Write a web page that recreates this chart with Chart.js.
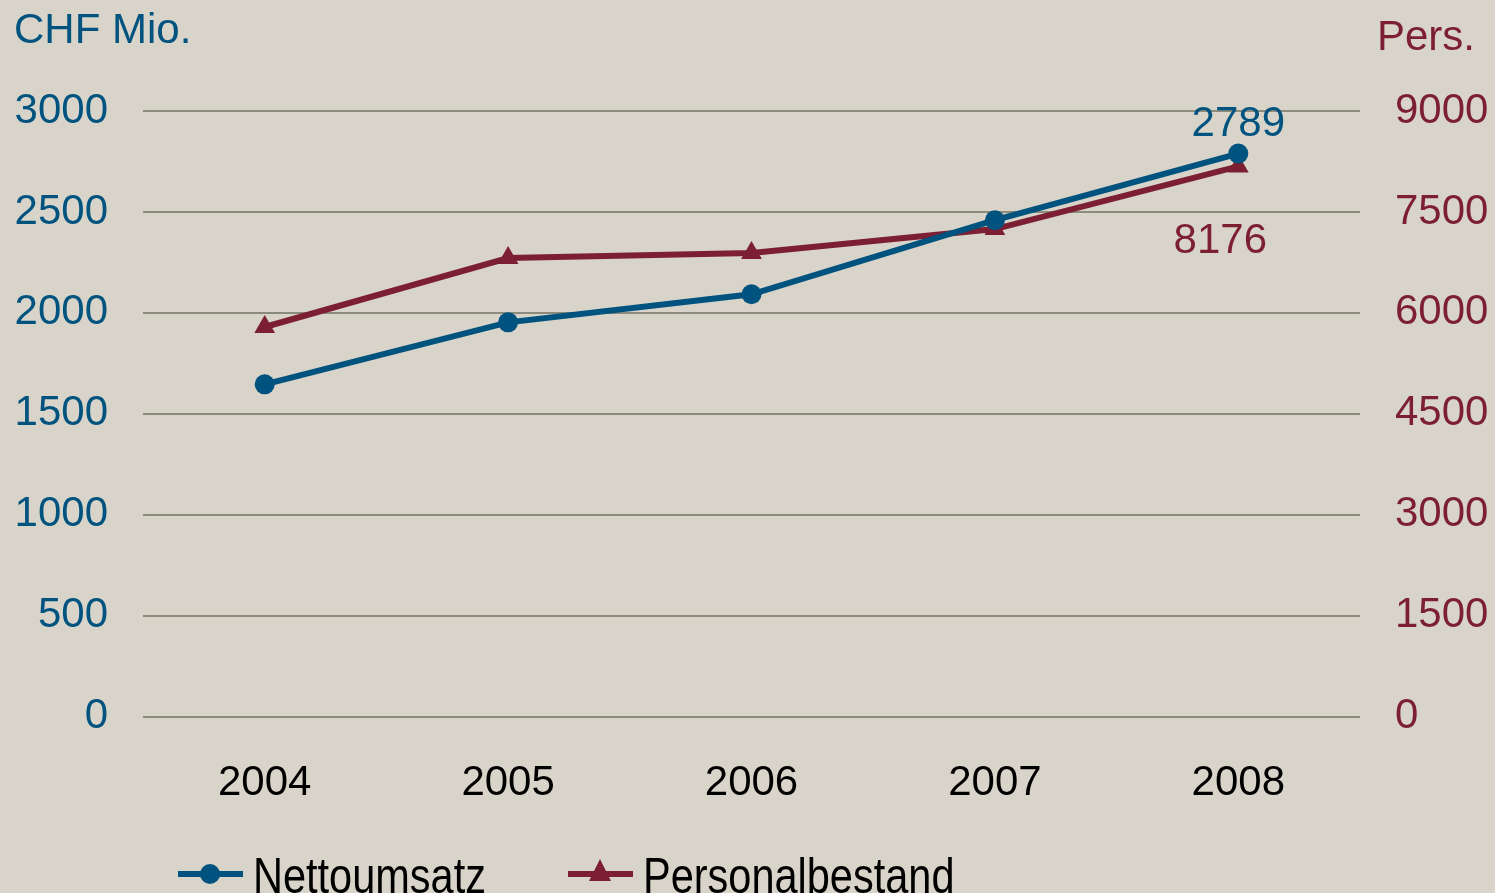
<!DOCTYPE html>
<html>
<head>
<meta charset="utf-8">
<script src="https://cdn.jsdelivr.net/npm/chart.js@4"></script>
<style>
  html, body { margin: 0; padding: 0; background: #d8d4c9; overflow: hidden; }
  #wrap { position: relative; width: 1495px; height: 893px; }
  .unit { position: absolute; font-family: "Liberation Sans", Arial, sans-serif; font-size: 42px; line-height: 1; }
  #unitL { left: 14px; top: 8px; color: #00527f; }
  #unitR { right: 20px; top: 15px; color: #7c1f32; }
  #legend { position: absolute; left: 0; top: 851px; width: 1495px; height: 60px;
    font-family: "Liberation Sans", Arial, sans-serif; font-size: 50px; line-height: 1; color: #000; }
  .item { position: absolute; top: 0; white-space: nowrap; }
  .mark { position: absolute; top: 20px; width: 65px; height: 6px; }
  .txt { position: absolute; top: 0; transform: scaleX(0.83); transform-origin: 0 0; }
</style>
</head>
<body>
<div id="wrap">
  <canvas id="chart" width="1495" height="893"></canvas>
  <div class="unit" id="unitL">CHF Mio.</div>
  <div class="unit" id="unitR">Pers.</div>
  <div id="legend"></div>
</div>
<script>
const years = ['2004', '2005', '2006', '2007', '2008'];
const nettoumsatz = [1646, 1953, 2092, 2459, 2789];
const personalbestand = [5790, 6815, 6890, 7245, 8176];
const leftTicks = [0, 500, 1000, 1500, 2000, 2500, 3000];
const rightTicks = [0, 1500, 3000, 4500, 6000, 7500, 9000];

const BLUE = '#00527f';
const RED = '#7c1f32';
const FONT = '"Liberation Sans", Arial, sans-serif';

// labels on the last point of each series
const endLabels = {
  id: 'endLabels',
  afterDatasetsDraw(chart) {
    const ctx = chart.ctx;
    ctx.save();
    ctx.font = '42px ' + FONT;
    ctx.textAlign = 'center';
    ctx.textBaseline = 'middle';
    const p0 = chart.getDatasetMeta(0).data[4];
    ctx.fillStyle = BLUE;
    ctx.fillText(String(nettoumsatz[4]), p0.x, p0.y - 29);
    const p1 = chart.getDatasetMeta(1).data[4];
    ctx.fillStyle = RED;
    ctx.fillText(String(personalbestand[4]), p1.x - 18, p1.y + 75);
    ctx.restore();
  }
};

new Chart(document.getElementById('chart'), {
  type: 'line',
  data: {
    labels: years,
    datasets: [
      {
        label: 'Nettoumsatz',
        data: nettoumsatz,
        yAxisID: 'y',
        borderColor: BLUE,
        backgroundColor: BLUE,
        borderWidth: 6,
        pointStyle: 'circle',
        pointRadius: 10,
        pointBorderWidth: 0,
        tension: 0
      },
      {
        label: 'Personalbestand',
        data: personalbestand,
        yAxisID: 'y1',
        borderColor: RED,
        backgroundColor: RED,
        borderWidth: 6,
        pointStyle: 'triangle',
        pointRadius: 12,
        pointBorderWidth: 0,
        tension: 0
      }
    ]
  },
  options: {
    responsive: false,
    animation: false,
    layout: { padding: { top: 111, bottom: 50, left: 0, right: 0 } },
    plugins: { legend: { display: false }, tooltip: { enabled: false } },
    scales: {
      x: {
        offset: true,
        grid: { display: false },
        border: { display: false },
        ticks: { color: '#000', font: { family: FONT, size: 42 }, padding: 34 }
      },
      y: {
        position: 'left',
        min: 0, max: 3000,
        afterBuildTicks: s => { s.ticks = leftTicks.map(v => ({ value: v })); },
        afterFit: s => { s.width = 143; },
        grid: { color: '#8c8c7e', lineWidth: 2, drawTicks: false },
        border: { display: false },
        ticks: { color: BLUE, font: { family: FONT, size: 42 }, padding: 35, callback: v => String(v) }
      },
      y1: {
        position: 'right',
        min: 0, max: 9000,
        afterBuildTicks: s => { s.ticks = rightTicks.map(v => ({ value: v })); },
        afterFit: s => { s.width = 135; },
        grid: { display: false, drawTicks: false },
        border: { display: false },
        ticks: { color: RED, font: { family: FONT, size: 42 }, padding: 35, callback: v => String(v) }
      }
    }
  },
  plugins: [endLabels]
});

// legend: line with marker, then name
const legendItems = [
  { name: 'Nettoumsatz', color: BLUE, left: 178, shape: 'circle' },
  { name: 'Personalbestand', color: RED, left: 568, shape: 'triangle' }
];
const legend = document.getElementById('legend');
legendItems.forEach(it => {
  const item = document.createElement('div');
  item.className = 'item';
  item.style.left = it.left + 'px';
  const mark = document.createElement('div');
  mark.className = 'mark';
  mark.style.background = it.color;
  const dot = document.createElement('div');
  if (it.shape === 'circle') {
    dot.style.cssText = 'position:absolute;left:22px;top:-7px;width:20px;height:20px;border-radius:50%;background:' + it.color;
  } else {
    dot.style.cssText = 'position:absolute;left:21px;top:-12px;width:0;height:0;border-left:11px solid transparent;border-right:11px solid transparent;border-bottom:22px solid ' + it.color;
  }
  mark.appendChild(dot);
  const txt = document.createElement('div');
  txt.className = 'txt';
  txt.style.left = '75px';
  txt.textContent = it.name;
  item.appendChild(mark);
  item.appendChild(txt);
  legend.appendChild(item);
});
</script>
</body>
</html>
